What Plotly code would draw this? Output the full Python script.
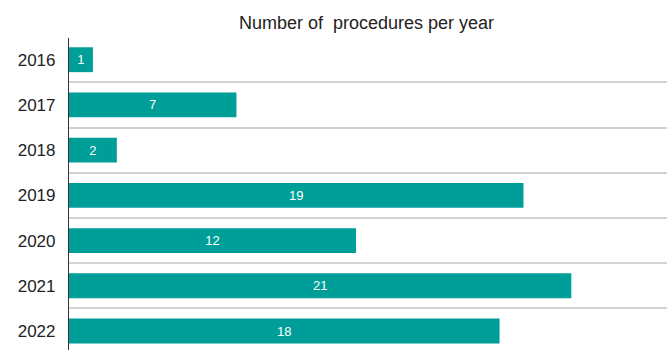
import plotly.graph_objects as go

years = ["2016", "2017", "2018", "2019", "2020", "2021", "2022"]
procedures = [1, 7, 2, 19, 12, 21, 18]

fig = go.Figure(go.Bar(
    x=procedures, y=years, orientation="h",
    marker=dict(color="#009E99", line=dict(width=0)),
    text=[str(v) for v in procedures], textposition="inside",
    insidetextanchor="middle",
    textfont=dict(color="white", size=13, family="Liberation Sans, Arial"),
    width=0.55,
))

fig.update_layout(
    width=670, height=350,
    margin=dict(l=69, r=3, t=38, b=0),
    plot_bgcolor="white", paper_bgcolor="white",
    showlegend=False,
    font=dict(family="Liberation Sans, Arial", color="#222"),
    title=dict(text="Number of  procedures per year", x=0.547, xanchor="center",
               y=0.935, yanchor="middle", font=dict(size=18, color="#222")),
    xaxis=dict(range=[0, 25], showgrid=False, showticklabels=False, zeroline=False,
               ticks="", showline=False, automargin=False),
    yaxis=dict(type="category", range=[6.42, -0.48], tickson="boundaries",
               showgrid=True, gridcolor="#d2d2d2", gridwidth=1.5,
               showline=True, linecolor="#333", linewidth=1.2,
               ticks="", ticklabelstandoff=9, automargin=False,
               tickfont=dict(size=17, color="#222")),
)

fig.write_html("out.html", config={"displayModeBar": False},
               post_script="document.body.style.margin='0';document.body.style.overflow='hidden';")
